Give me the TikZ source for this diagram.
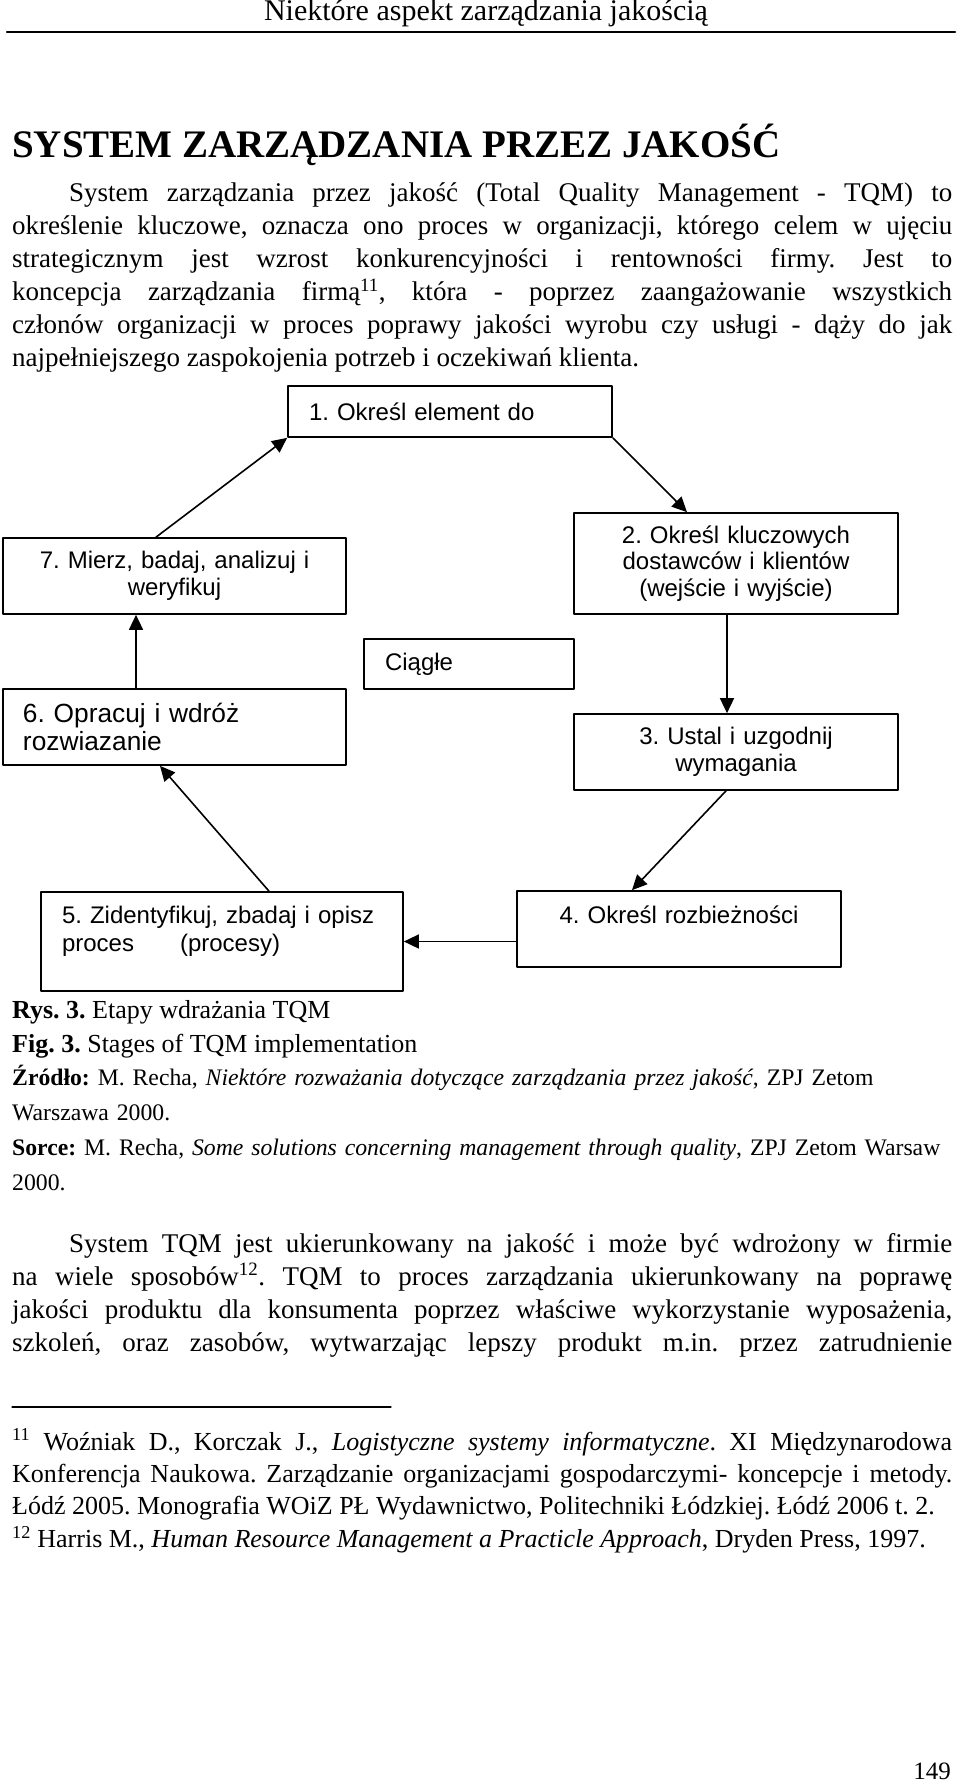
\documentclass[tikz,border=0pt]{standalone}
\usepackage{fontspec}
\setmainfont{Liberation Serif}
\setsansfont{Liberation Sans}
\usetikzlibrary{arrows.meta}
\tolerance=9999
\hyphenpenalty=10000
\frenchspacing
\tikzset{
	etap/.style={draw,line width=1.7pt,inner ysep=0pt,font=\sffamily\fontsize{24}{26.5}\selectfont},
	strz/.style={->,line width=1.6pt},
	akapit/.style={anchor=base west,inner sep=0pt,text width=940pt,align=justify,font=\fontsize{27}{33}\selectfont,
		execute at begin node={\spaceskip=0.25em plus 0.3em minus 0.13em\relax}},
	wiersz/.style={anchor=base west,inner sep=0pt}
}
\begin{document}
\begin{tikzpicture}[x=1pt,y=-1pt,line cap=round,line join=round,>={Triangle[length=15pt,width=14pt]}]
	\useasboundingbox (0,0) rectangle (960,1784);
	\node[anchor=base,inner sep=0pt,font=\fontsize{30}{36}\selectfont] (naglowek) at (486,21) {Niektóre aspekt zarządzania jakością};
	\draw[line width=2.5pt] (7,32) -- (955,32);
	\node[wiersz,font=\bfseries\fontsize{39}{45}\selectfont] (tytul) at (12,158) {SYSTEM ZARZĄDZANIA PRZEZ JAKOŚĆ};
	\node[akapit] (tekst1) at (12,202) {\hspace*{57pt}System zarządzania przez jakość (Total Quality Management - TQM) to\linebreak
	określenie kluczowe, oznacza ono proces w organizacji, którego celem w ujęciu\linebreak
	strategicznym jest wzrost konkurencyjności i rentowności firmy. Jest to\linebreak
	koncepcja zarządzania firmą\textsuperscript{11}, która - poprzez zaangażowanie wszystkich\linebreak
	członów organizacji w proces poprawy jakości wyrobu czy usługi - dąży do jak\linebreak
	najpełniejszego zaspokojenia potrzeb i oczekiwań klienta.};

	\node[etap,minimum width=324pt,minimum height=51pt,text width=282pt,inner xsep=21pt,align=left] (e1) at (450,411.5) {1. Określ element do};
	\node[etap,minimum width=324pt,minimum height=101pt,text width=300pt,inner xsep=12pt,align=center] (e2) at (736,563.5) {2. Określ kluczowych\\dostawców i klientów\\(wejście i wyjście)};
	\node[etap,minimum width=324pt,minimum height=76pt,text width=300pt,inner xsep=12pt,align=center] (e3) at (736,752) {3. Ustal i uzgodnij\\wymagania};
	\node[etap,text width=300pt,inner xsep=12pt,align=center,text height=32pt,text depth=44pt] (e4) at (679,929) {4. Określ rozbieżności};
	\node[etap,text width=320pt,inner xsep=21pt,align=left,text height=31pt,text depth=68pt,font=\sffamily\fontsize{24}{28}\selectfont] (e5) at (222,941.5) {5. Zidentyfikuj, zbadaj i opisz\\proces\hspace{46pt}(procesy)};
	\node[etap,minimum width=343pt,minimum height=76pt,text width=303pt,inner xsep=20pt,align=left,font=\sffamily\fontsize{26.3}{28.5}\selectfont] (e6) at (174.5,727) {6. Opracuj i wdróż\\rozwiazanie};
	\node[etap,minimum width=343pt,minimum height=76pt,text width=319pt,inner xsep=12pt,align=center] (e7) at (174.5,576) {7. Mierz, badaj, analizuj i\\weryfikuj};
	\node[etap,minimum width=210pt,minimum height=50pt,text width=168pt,inner xsep=21pt,align=left] (ciagle) at (469,664) {Ciągłe};

	\draw[strz] ([xshift=-18.5pt]e7.north) -- (e1.south west);
	\draw[strz] (e1.south east) -- ([xshift=-49pt]e2.north);
	\draw[strz] ([xshift=-9pt]e2.south) -- ([xshift=-9pt]e3.north);
	\draw[strz] ([xshift=-10pt]e3.south) -- ([xshift=-47pt]e4.north);
	\draw[strz] (e4.west |- e5.east) -- (e5.east);
	\draw[strz] ([xshift=47pt]e5.north) -- ([xshift=-14.5pt]e6.south);
	\draw[strz] ([xshift=-38.5pt]e6.north) -- ([xshift=-38.5pt]e7.south);

	\node[wiersz,font=\fontsize{26}{34}\selectfont] (rys) at (12,1018) {\textbf{Rys. 3.} Etapy wdrażania TQM};
	\node[wiersz,font=\fontsize{26}{34}\selectfont] (fig) at (12,1052) {\textbf{Fig. 3.} Stages of TQM implementation};
	\node[wiersz,text width=940pt,align=left,font=\fontsize{23.7}{35}\selectfont] (zrodlo) at (12,1085) {\textbf{Źródło:} M. Recha, \textit{Niektóre rozważania dotyczące zarządzania przez jakość}, ZPJ Zetom\\Warszawa 2000.};
	\node[wiersz,text width=940pt,align=left,font=\fontsize{23.7}{35}\selectfont] (sorce) at (12,1155) {\textbf{Sorce:} M. Recha, \textit{Some solutions concerning management through quality}, ZPJ Zetom Warsaw\\2000.};

	\node[akapit] (tekst2) at (12,1252) {\parfillskip=0pt\hspace*{57pt}System TQM jest ukierunkowany na jakość i może być wdrożony w firmie\linebreak
	na wiele sposobów\textsuperscript{12}. TQM to proces zarządzania ukierunkowany na poprawę\linebreak
	jakości produktu dla konsumenta poprzez właściwe wykorzystanie wyposażenia,\linebreak
	szkoleń, oraz zasobów, wytwarzając lepszy produkt m.in. przez zatrudnienie\par};

	\draw[line width=1.3pt] (12,1407) -- (391,1407);
	\node[akapit,font=\fontsize{26}{32.4}\selectfont] (przypisy) at (12,1450) {\textsuperscript{11} Woźniak D., Korczak J., \textit{Logistyczne systemy informatyczne}. XI Międzynarodowa\linebreak
	Konferencja Naukowa. Zarządzanie organizacjami gospodarczymi- koncepcje i metody.\linebreak
	Łódź 2005. Monografia WOiZ PŁ Wydawnictwo, Politechniki Łódzkiej. Łódź 2006 t. 2.\par
	\textsuperscript{12} Harris M., \textit{Human Resource Management a Practicle Approach}, Dryden Press, 1997.};
	\node[anchor=base east,inner sep=0pt,font=\fontsize{25}{30}\selectfont] (strona) at (951,1779) {149};
\end{tikzpicture}
\end{document}
